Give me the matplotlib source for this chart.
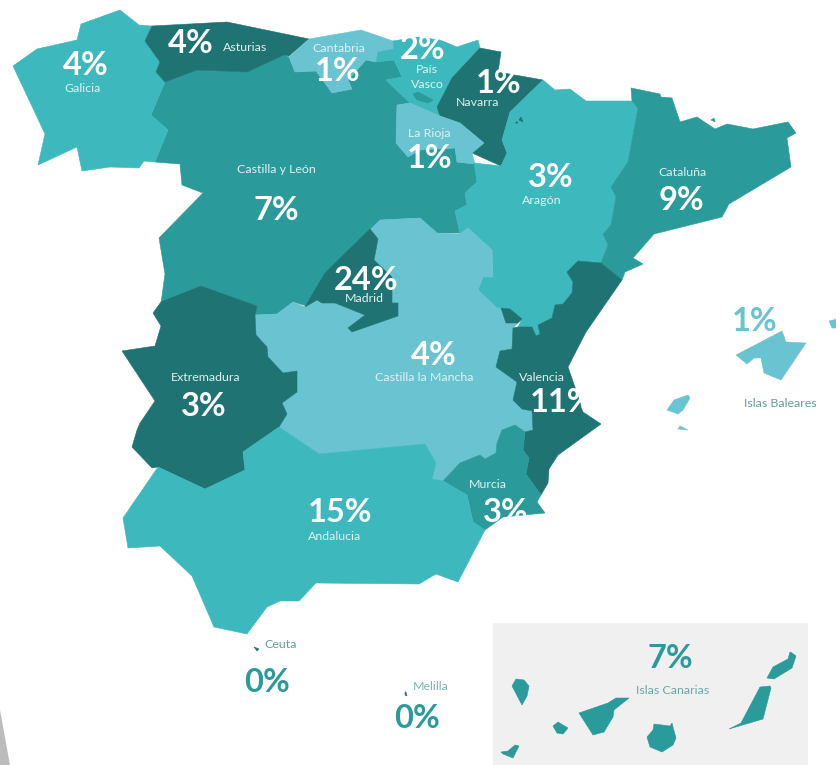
import matplotlib
matplotlib.use("Agg")
import matplotlib.pyplot as plt
from matplotlib.patches import Polygon, Rectangle

plt.rcParams["font.family"] = ["Lato", "DejaVu Sans"]

# region names and share, same order everywhere
names = ["Galicia", "Asturias", "Cantabria", "País\nVasco", "Navarra", "La Rioja",
         "Castilla y León", "Aragón", "Cataluña", "Madrid", "Extremadura",
         "Castilla la Mancha", "Valencia", "Murcia", "Andalucia",
         "Islas Baleares", "Ceuta", "Melilla", "Islas Canarias"]
shares = [4, 4, 1, 2, 1, 1, 7, 3, 9, 24, 3, 4, 11, 3, 15, 1, 0, 0, 7]

# outlines, in image pixels
galicia = [(13, 66), (37, 49), (77, 40), (81, 24), (120, 10), (139, 25), (152, 26), (145, 41), (160, 62),
           (156, 72), (165, 82), (151, 115), (168, 130), (155, 162), (144, 161), (139, 168), (110, 167),
           (82, 171), (77, 147), (38, 165), (45, 134)]
asturias = [(152, 26), (227, 22), (309, 39), (289, 56), (284, 55), (247, 72), (197, 70), (165, 82),
            (156, 72), (160, 62), (145, 41)]
cantabria = [(309, 39), (361, 30), (393, 41), (394, 49), (378, 52), (376, 62), (366, 60), (348, 80),
             (352, 89), (332, 93), (316, 71), (295, 72), (289, 57)]
pais_vasco = [(393, 41), (418, 37), (440, 40), (457, 47), (478, 40), (480, 48), (452, 78), (437, 107),
              (440, 116), (410, 103), (386, 80), (402, 77), (394, 60), (376, 62), (378, 52), (394, 49)]
trevino = [(413, 94), (418, 92), (433, 100), (428, 103), (417, 100)]
navarra = [(480, 48), (501, 52), (498, 72), (543, 80), (510, 112), (502, 140), (507, 153), (501, 166),
           (472, 153), (484, 143), (460, 123), (440, 116), (437, 107), (452, 78)]
la_rioja = [(397, 105), (410, 103), (440, 116), (460, 123), (484, 143), (472, 153), (475, 164), (457, 162),
            (455, 148), (420, 150), (408, 157), (396, 143)]
castilla_leon = [(165, 82), (197, 70), (247, 72), (284, 55), (289, 57), (295, 72), (316, 71), (332, 93),
                 (352, 89), (348, 80), (366, 60), (376, 62), (394, 60), (402, 77), (386, 80), (410, 103),
                 (397, 105), (396, 143), (408, 157), (420, 150), (455, 148), (457, 162), (475, 164),
                 (477, 182), (465, 193), (467, 205), (455, 211), (460, 233), (437, 233), (420, 218),
                 (380, 220), (370, 230), (325, 273), (307, 306), (293, 302), (277, 314), (255, 315),
                 (257, 306), (201, 286), (161, 303), (165, 274), (159, 238), (203, 193), (182, 185),
                 (180, 164), (155, 162), (168, 130), (151, 115)]
aragon = [(543, 80), (555, 90), (570, 89), (586, 101), (632, 101), (638, 108), (628, 162), (611, 187),
          (616, 197), (611, 225), (603, 234), (608, 245), (601, 263), (578, 261), (567, 272), (573, 282),
          (572, 293), (563, 304), (555, 305), (552, 318), (538, 325), (540, 334), (536, 336), (532, 327),
          (518, 327), (522, 319), (510, 309), (501, 308), (497, 308), (478, 290), (483, 277), (493, 277),
          (492, 250), (468, 228), (460, 234), (455, 211), (467, 205), (465, 193), (477, 182), (474, 163),
          (501, 166), (507, 153), (502, 140), (510, 112)]
cataluna = [(631, 88), (660, 94), (661, 97), (672, 98), (680, 122), (697, 117), (715, 129), (727, 124),
            (753, 129), (788, 122), (796, 133), (787, 138), (791, 167), (729, 204), (722, 217), (654, 234),
            (633, 258), (643, 264), (625, 272), (622, 280), (601, 263), (608, 245), (603, 234), (611, 225),
            (616, 197), (611, 187), (628, 162), (638, 108), (632, 101)]
madrid = [(370, 229), (378, 239), (374, 260), (392, 277), (392, 303), (398, 303), (398, 316), (352, 332),
          (348, 328), (365, 315), (335, 303), (322, 303), (317, 300), (305, 307), (325, 273)]
extremadura = [(201, 286), (257, 306), (255, 315), (256, 335), (267, 347), (268, 357), (283, 373), (297, 371),
               (297, 392), (282, 403), (287, 414), (279, 427), (243, 452), (245, 470), (205, 489), (158, 467),
               (152, 468), (132, 447), (137, 430), (140, 423), (155, 401), (122, 351), (155, 346), (161, 326),
               (153, 313), (161, 302)]
castilla_mancha = [(255, 315), (277, 314), (293, 302), (305, 307), (317, 300), (322, 303), (335, 303), (365, 315),
                   (348, 328), (352, 332), (398, 316), (398, 303), (392, 303), (392, 277), (374, 260), (378, 239),
                   (370, 230), (380, 220), (420, 218), (437, 233), (460, 234), (468, 228), (492, 250), (493, 277),
                   (483, 277), (478, 290), (497, 308), (501, 308), (506, 323), (518, 323), (513, 328), (512, 349),
                   (500, 351), (496, 367), (517, 382), (513, 400), (522, 409), (532, 411), (533, 430), (525, 432),
                   (515, 425), (502, 430), (497, 443), (496, 453), (485, 459), (480, 455), (460, 463), (443, 481),
                   (432, 479), (436, 463), (425, 444), (319, 454), (279, 427), (287, 414), (282, 403), (297, 392),
                   (297, 371), (283, 373), (268, 357), (267, 347), (256, 335)]
valencia = [(578, 261), (601, 263), (622, 280), (586, 332), (568, 367), (577, 393), (583, 412), (601, 424),
            (558, 455), (549, 469), (548, 483), (541, 495), (526, 474), (529, 458), (523, 450), (525, 432),
            (533, 430), (532, 411), (522, 409), (513, 400), (517, 382), (496, 367), (500, 351), (512, 349),
            (513, 328), (518, 327), (532, 327), (536, 336), (540, 334), (538, 325), (552, 318), (555, 305),
            (563, 304), (572, 293), (573, 282), (567, 272)]
ademuz = [(501, 308), (510, 309), (522, 319), (518, 323), (506, 323)]
murcia = [(443, 481), (460, 463), (480, 455), (485, 459), (496, 453), (497, 443), (502, 430), (515, 425),
          (525, 432), (523, 450), (529, 458), (526, 474), (541, 495), (537, 502), (545, 513), (503, 517),
          (485, 530), (473, 522), (467, 495)]
andalucia = [(279, 427), (319, 454), (425, 444), (436, 463), (432, 479), (443, 481), (467, 495), (473, 522),
             (485, 530), (458, 582), (436, 574), (419, 584), (316, 583), (299, 601), (280, 601), (267, 607),
             (247, 634), (214, 627), (192, 576), (160, 546), (128, 548), (123, 518), (158, 467), (205, 489),
             (245, 470), (243, 452)]
mallorca = [(782, 331), (786, 342), (806, 343), (781, 380), (764, 373), (761, 358), (754, 358), (747, 364), (736, 355)]
menorca = [(829, 321), (837, 319), (837, 328), (832, 328)]
ibiza = [(667, 410), (674, 400), (688, 395), (690, 398), (683, 410), (678, 414)]
formentera = [(678, 429), (680, 426), (688, 430)]
aran = [(711, 120), (714, 118), (715, 122)]
petilla_a = [(519, 120), (521, 117), (523, 122)]
petilla_b = [(516, 122), (518, 122), (516, 124)]
ceuta = [(254, 647), (259, 649), (257, 651)]
melilla = [(405, 692), (406, 692), (407, 696), (405, 695)]
la_palma = [(512, 686), (516, 679), (524, 680), (529, 686), (527, 696), (522, 705)]
el_hierro = [(501, 752), (508, 751), (515, 745), (519, 746), (513, 758), (503, 754)]
la_gomera = [(553, 726), (558, 722), (568, 728), (563, 734), (557, 733)]
tenerife = [(579, 713), (608, 703), (616, 698), (629, 698), (614, 710), (613, 717), (604, 732), (593, 735)]
gran_canaria = [(654, 724), (670, 726), (672, 723), (673, 727), (676, 738), (673, 745), (662, 752), (650, 747),
                (647, 737), (653, 730)]
fuerteventura = [(729, 729), (741, 723), (760, 687), (770, 686), (771, 688), (763, 719)]
lanzarote = [(767, 678), (773, 667), (788, 659), (790, 652), (792, 653), (796, 656), (792, 668), (774, 679)]
panel_corner = [(0, 710), (10, 765), (0, 765)]

BRIGHT = "#3db8bc"
MID = "#2a9a9b"
DARK = "#207373"
PALE = "#6ac3d0"

fig = plt.figure(figsize=(8.37, 7.65), dpi=100)
ax = fig.add_axes([0, 0, 1, 1])
ax.set_xlim(0, 837)
ax.set_ylim(765, 0)
ax.axis("off")

ax.add_patch(Rectangle((493, 623), 315, 142, color="#f0f0f0", lw=0))
ax.add_patch(Polygon(panel_corner, color="#bcbcbc", lw=0))

layers = [
    (castilla_leon, MID), (galicia, BRIGHT), (asturias, DARK), (cantabria, PALE), (pais_vasco, BRIGHT),
    (trevino, MID), (navarra, DARK), (la_rioja, PALE), (aragon, BRIGHT), (cataluna, MID),
    (castilla_mancha, PALE), (madrid, DARK), (extremadura, DARK), (valencia, DARK), (ademuz, DARK),
    (murcia, MID), (andalucia, BRIGHT), (mallorca, PALE), (menorca, PALE), (ibiza, PALE), (formentera, PALE),
    (aran, MID), (petilla_a, DARK), (petilla_b, DARK), (ceuta, DARK), (melilla, DARK),
    (la_palma, MID), (el_hierro, MID), (la_gomera, MID), (tenerife, MID), (gran_canaria, MID),
    (fuerteventura, MID), (lanzarote, MID),
]
for outline, colour in layers:
    ax.add_patch(Polygon(outline, closed=True, facecolor=colour, edgecolor=colour, lw=0.4))

# centre of the name and of the percentage for each region
name_xy = [(83, 88), (245, 47), (339, 48), (427, 77), (478, 102), (429, 133), (276, 169), (542, 200), (683, 172),
           (364, 298), (206, 377), (424, 377), (542, 377), (488, 484), (335, 536), (780, 403), (281, 645),
           (431, 687), (673, 690)]
share_xy = [(86, 65), (191, 43), (338, 71), (423, 49), (499, 83), (430, 158), (276, 210), (551, 177), (681, 200),
            (366, 280), (204, 406), (434, 355), (562, 402), (506, 512), (340, 512), (755, 321), (267, 682),
            (417, 719), (670, 659)]
name_colours = ["#dff1f2"] * 15 + ["#5f9ea3", "#5f9ea3", "#7fb3b5", "#6fa5a8"]
share_colours = ["white"] * 15 + [PALE, MID, MID, MID]

for i, name in enumerate(names):
    ax.text(name_xy[i][0], name_xy[i][1], name, color=name_colours[i], fontsize=8.9,
            ha="center", va="center", linespacing=1.35)
    ax.text(share_xy[i][0], share_xy[i][1], f"{shares[i]}%", color=share_colours[i], fontsize=23.5,
            fontweight="bold", ha="center", va="center")

fig.savefig("out.png", dpi=100)
